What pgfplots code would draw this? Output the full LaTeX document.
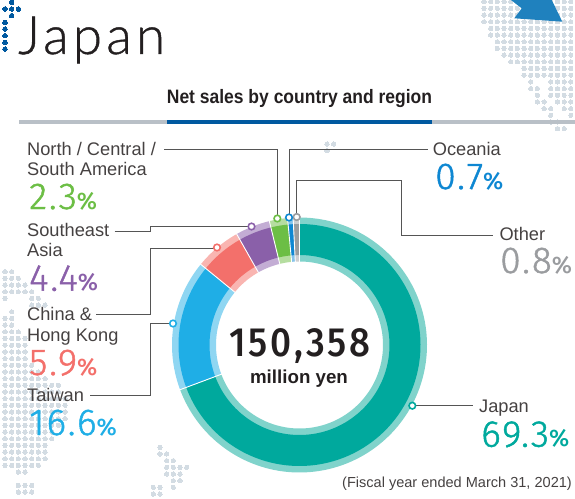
\documentclass[border=0pt]{standalone}
\usepackage{pgfplots}
\pgfplotsset{compat=1.18}
\usepackage{fontspec}
\setmainfont{Liberation Sans}
\newfontfamily\numf[LetterSpace=5,FakeBold=1.3]{Fira Sans Light}
\newfontfamily\pctf{Fira Sans Medium}
\newfontfamily\ttlf[LetterSpace=8,FakeBold=0.8]{Lato Light}
\newfontfamily\ctrf[LetterSpace=7,FakeStretch=0.9]{Fira Sans Medium}
\newfontfamily\headf[FakeStretch=0.9]{Liberation Sans Bold}
\definecolor{tJ}{HTML}{00A99D}\definecolor{lJ}{HTML}{80D3CB}
\definecolor{tT}{HTML}{1FAEE6}\definecolor{lT}{HTML}{8FD6F2}
\definecolor{tC}{HTML}{F3706B}\definecolor{lC}{HTML}{F9B5B1}
\definecolor{tS}{HTML}{8A60A9}\definecolor{lS}{HTML}{C3ADD4}
\definecolor{tN}{HTML}{6CBE45}\definecolor{lN}{HTML}{B5DDA0}
\definecolor{tO}{HTML}{0E87D2}\definecolor{lO}{HTML}{85C3EA}
\definecolor{tX}{HTML}{9A9C9F}\definecolor{lX}{HTML}{CDCED0}
\definecolor{pale}{HTML}{D3DCE3}
\definecolor{navy}{HTML}{0059A0}
\definecolor{arrow}{HTML}{1F81BE}
\definecolor{rule}{HTML}{B9C0C7}
\definecolor{leader}{HTML}{555555}
\definecolor{txt}{HTML}{454141}
\definecolor{dark}{HTML}{231F20}
% pale and blue dot grids of the background map
\gdef\dotlist{}
\newcommand\grid[2]{\def\gx{#1}\def\gy{#2}}
\newcommand\R[3]{\foreach \i in {#2,...,#3}{\pgfmathsetmacro\X{\gx+6.68*\i}\pgfmathsetmacro\Y{\gy+6.68*#1}\xdef\dotlist{\dotlist (\X,\Y)}}}
% ring pieces, start and end in percent of the circle
\gdef\arclist{}
\newcommand\arcp[3]{\pgfmathtruncatemacro\n{max(2,ceil(abs(#2-#1)*3.6/2))}%
 \foreach \k in {0,...,\n}{\pgfmathsetmacro\T{3.6*(#1+(#2-#1)*\k/\n)}\pgfmathsetmacro\X{299.5+#3*sin(\T)}\pgfmathsetmacro\Y{345-#3*cos(\T)}\xdef\arclist{\arclist (\X,\Y)}}}
\newcommand\seg[4]{\gdef\arclist{}\arcp{#1}{#2}{127.5}\arcp{#2}{#1}{83.5}%
 \edef\tmp{\noexpand\addplot[fill=#4,draw=none] coordinates {\arclist} --cycle;}\tmp
 \gdef\arclist{}\arcp{#1}{#2}{121}\arcp{#2}{#1}{90}%
 \edef\tmp{\noexpand\addplot[fill=#3,draw=none] coordinates {\arclist} --cycle;}\tmp}
\newcommand\sep[1]{\gdef\arclist{}\arcp{#1}{#1}{128}\arcp{#1}{#1}{83}%
 \edef\tmp{\noexpand\addplot[draw=white,line width=0.9pt] coordinates {\arclist};}\tmp}
\newcommand\lab[3]{\node[anchor=base west,inner sep=0pt,text=txt,font=\fontsize{18.3}{19}\selectfont] at (axis cs:#1,#2) {#3};}
\newcommand\pct[4]{\node[anchor=base west,inner sep=0pt,text=#3] at (axis cs:#1,#2) {{\numf\fontsize{37.5}{38}\selectfont #4}{\pctf\fontsize{24}{25}\selectfont\%}};}
\begin{document}
\begin{tikzpicture}
\path[use as bounding box] (0,0) rectangle (575bp,499bp);
\grid{484}{1.7}
\R{0}{0}{13}\R{1}{0}{13}\R{2}{0}{13}\R{3}{0}{13}\R{4}{1}{13}\R{5}{1}{13}\R{6}{2}{13}\R{7}{2}{13}\R{8}{3}{13}\R{9}{4}{13}\R{10}{6}{13}\R{11}{6}{13}
\R{12}{7}{7}\R{12}{10}{13}\R{13}{7}{8}\R{13}{10}{13}\R{14}{8}{8}\R{14}{10}{13}\R{15}{8}{9}\R{15}{11}{13}\R{16}{9}{10}\R{16}{12}{13}\R{17}{10}{10}\R{17}{13}{13}\R{18}{10}{11}\R{19}{11}{12}
\grid{327}{144}
\R{0}{0}{1}\R{1}{0}{0}
\grid{5}{271.7}
\R{0}{0}{1}\R{1}{0}{2}\R{2}{0}{3}\R{3}{0}{4}\R{4}{0}{0}\R{4}{4}{5}\R{5}{4}{6}\R{6}{1}{1}\R{7}{0}{1}\R{8}{0}{1}\R{9}{0}{2}\R{10}{0}{3}\R{11}{0}{3}\R{12}{0}{3}\R{13}{0}{3}\R{14}{0}{4}\R{15}{0}{5}\R{16}{0}{6}\R{17}{0}{8}\R{18}{0}{8}\R{19}{0}{9}\R{20}{0}{9}\R{21}{0}{9}\R{22}{0}{9}\R{23}{0}{8}\R{24}{0}{7}\R{25}{0}{7}\R{26}{0}{6}\R{27}{0}{6}\R{28}{0}{6}\R{29}{0}{5}\R{30}{2}{3}\R{32}{2}{4}\R{33}{2}{4}
\grid{153.3}{447.3}
\R{0}{1}{1}\R{1}{1}{2}\R{2}{2}{3}\R{3}{2}{5}\R{4}{2}{4}\R{5}{3}{4}\R{6}{0}{1}\R{6}{3}{3}\R{7}{0}{1}
\let\paledots\dotlist
\gdef\dotlist{}
\grid{5}{2.3}
\R{0}{1}{1}\R{1}{0}{2}\R{2}{1}{1}\R{3}{-1}{0}\R{4}{-1}{0}\R{5}{-1}{0}\R{6}{-1}{0}\R{7}{-1}{0}\R{8}{-1}{-1}\R{9}{-1}{-1}
\let\bluedots\dotlist
\begin{axis}[at={(0,0)},anchor=south west,scale only axis,width=575bp,height=499bp,
  xmin=0,xmax=575,ymin=0,ymax=499,y dir=reverse,hide axis,clip mode=individual]
\edef\tmp{\noexpand\addplot[only marks,mark=*,mark size=2.15bp,color=pale,mark options={fill=pale,draw=pale,line width=0pt}] coordinates {\paledots};}\tmp
\edef\tmp{\noexpand\addplot[only marks,mark=*,mark size=2.3bp,color=navy,mark options={fill=navy,draw=navy,line width=0pt}] coordinates {\bluedots};}\tmp
\addplot[fill=arrow,draw=none] coordinates {(511,0) (521.7,8.3) (514.3,18.3) (562.3,21.7) (551.7,0)} --cycle;
% title rule
\addplot[draw=rule,line width=3.6bp] coordinates {(19,122) (575,122)};
\addplot[draw=navy,line width=3.6bp] coordinates {(167,122) (432,122)};
% ring: Japan 69.3, Taiwan 16.6, China 5.9, Southeast Asia 4.4, Americas 2.3, Oceania 0.7, Other 0.8
\seg{0}{69.3}{tJ}{lJ}
\seg{69.3}{85.9}{tT}{lT}
\seg{85.9}{91.8}{tC}{lC}
\seg{91.8}{96.2}{tS}{lS}
\seg{96.2}{98.5}{tN}{lN}
\seg{98.5}{99.2}{tO}{lO}
\seg{99.2}{100}{tX}{lX}
\sep{0}\sep{69.3}\sep{85.9}\sep{91.8}\sep{96.2}\sep{98.5}\sep{99.2}
% leaders
\addplot[draw=leader,line width=0.85pt] coordinates {(164,149) (277.3,149) (277.3,218.5)};
\addplot[draw=leader,line width=0.85pt] coordinates {(427.7,149) (289,149) (289,217.5)};
\addplot[draw=leader,line width=0.85pt] coordinates {(296.7,217) (296.7,180.5) (401.3,180.5) (401.3,235) (493,235)};
\addplot[draw=leader,line width=0.85pt] coordinates {(114.5,231) (150,231) (150,226.5) (251.5,226.5)};
\addplot[draw=leader,line width=0.85pt] coordinates {(217,248) (150,248) (150,314.5) (96,314.5)};
\addplot[draw=leader,line width=0.85pt] coordinates {(173,323.5) (150,323.5) (150,395.7) (90,395.7)};
\addplot[draw=leader,line width=0.85pt] coordinates {(412.3,405.7) (473,405.7)};
\addplot[only marks,mark=*,mark size=3.3pt,mark options={fill=white,draw=tX,line width=1.6pt}] coordinates {(296.7,217)};
\addplot[only marks,mark=*,mark size=3.3pt,mark options={fill=white,draw=tO,line width=1.6pt}] coordinates {(289,217.5)};
\addplot[only marks,mark=*,mark size=3.3pt,mark options={fill=white,draw=tN,line width=1.6pt}] coordinates {(277.3,218.5)};
\addplot[only marks,mark=*,mark size=3.3pt,mark options={fill=white,draw=tS,line width=1.6pt}] coordinates {(251.5,226.5)};
\addplot[only marks,mark=*,mark size=3.3pt,mark options={fill=white,draw=tC,line width=1.6pt}] coordinates {(217,247.5)};
\addplot[only marks,mark=*,mark size=3.3pt,mark options={fill=white,draw=tT,line width=1.6pt}] coordinates {(173,323.5)};
\addplot[only marks,mark=*,mark size=3.3pt,mark options={fill=white,draw=tJ,line width=1.6pt}] coordinates {(412.3,405.7)};
% text
\node[anchor=base west,inner sep=0pt,text=dark] at (axis cs:18,54) {\ttlf\fontsize{53}{54}\selectfont Japan};
\node[anchor=base,inner sep=0pt,text=dark] at (axis cs:299.5,104) {\headf\fontsize{19.5}{20}\selectfont Net sales by country and region};
\lab{27}{155}{North / Central /}
\lab{27}{175}{South America}
\pct{29}{209}{tN}{2.3}
\lab{27}{236}{Southeast}
\lab{27}{256}{Asia}
\pct{29}{290.7}{tS}{4.4}
\lab{27}{320}{China \&}
\lab{27}{341}{Hong Kong}
\pct{29}{375}{tC}{5.9}
\lab{27}{401}{Taiwan}
\pct{29}{435}{tT}{16.6}
\lab{432.7}{155}{Oceania}
\pct{435}{189}{tO}{0.7}
\lab{499.3}{240}{Other}
\pct{500}{273}{tX}{0.8}
\lab{479}{412.7}{Japan}
\pct{481}{446.7}{tJ}{69.3}
\node[anchor=base,inner sep=0pt,text=dark] at (axis cs:300,356) {\ctrf\fontsize{41}{42}\selectfont 150,358};
\node[anchor=base,inner sep=0pt,text=dark] at (axis cs:299,383) {\bfseries\fontsize{18.8}{19}\selectfont million yen};
\node[anchor=base east,inner sep=0pt,text=txt] at (axis cs:572,487) {\fontsize{14.6}{15}\selectfont (Fiscal year ended March 31, 2021)};
\end{axis}
\end{tikzpicture}
\end{document}
